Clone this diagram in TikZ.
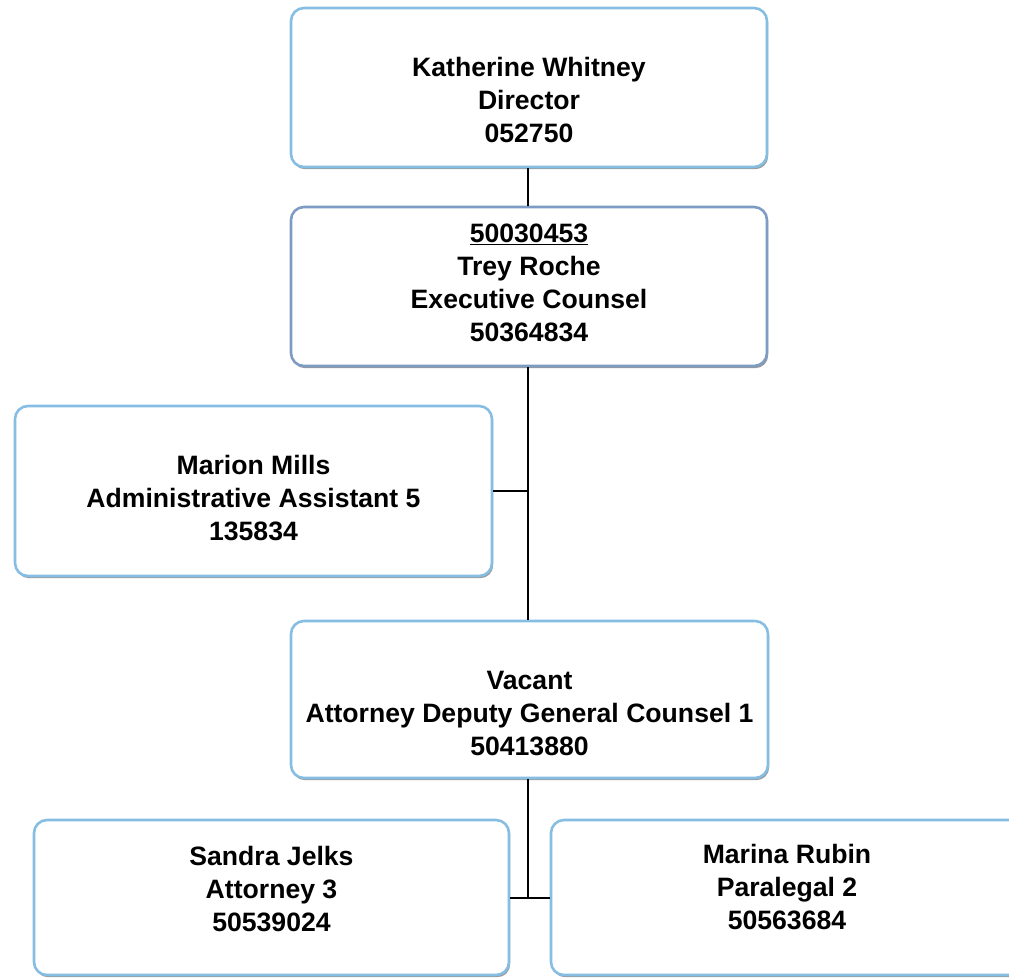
\documentclass[tikz,border=0pt]{standalone}
\usepackage{fontspec}
\setmainfont{Liberation Sans}
\usetikzlibrary{shadows}
\definecolor{boxblue}{HTML}{86BDE2}
\definecolor{boxsteel}{HTML}{7E9CC3}
\begin{document}
\begin{tikzpicture}[x=1pt,y=-1pt,
  orgbox/.style={draw=boxblue, line width=2.6pt, fill=white, rounded corners=13pt,
    inner sep=0pt, drop shadow={shadow xshift=1.2pt, shadow yshift=-2.2pt, fill=black!40, opacity=1}},
  orgtext/.style={align=center, font=\fontsize{26.6}{33}\selectfont\bfseries, inner sep=0pt},
  link/.style={draw=black, line width=1.3pt}]
\useasboundingbox (0,0) rectangle (1009,977);
% boxes
\node[orgbox, minimum width=476pt, minimum height=159pt] (b1) at (529,87.5) {};
\node[orgbox, draw=boxsteel, minimum width=476pt, minimum height=159pt] (b2) at (529,286.5) {};
\node[orgbox, minimum width=477pt, minimum height=170pt] (b3) at (253.5,491) {};
\node[orgbox, minimum width=477pt, minimum height=157pt] (b4) at (529.5,699.5) {};
\node[orgbox, minimum width=475pt, minimum height=155pt] (b5) at (271.5,897.5) {};
\node[orgbox, minimum width=472pt, minimum height=155pt] (b6) at (787,897.5) {};
% texts
\node[orgtext] (t1) at (529,99.5) {Katherine Whitney\\Director\\052750};
\node[orgtext] (t2) at (529,283) {\underline{50030453}\\Trey Roche\\Executive Counsel\\50364834};
\node[orgtext] (t3) at (253.5,498) {Marion Mills\\Administrative Assistant 5\\135834};
\node[orgtext] (t4) at (529.5,713) {Vacant\\Attorney Deputy General Counsel 1\\50413880};
\node[orgtext] (t5) at (271.5,889) {Sandra Jelks\\Attorney 3\\50539024};
\node[orgtext] (t6) at (787,887) {Marina Rubin\\Paralegal 2\\50563684};
% connectors
\coordinate (j1) at (528,491);
\coordinate (j2) at (528,898);
\draw[link] (b1.south -| 528,0) -- (b2.north -| 528,0);
\draw[link] (b2.south -| 528,0) -- (b4.north -| 528,0);
\draw[link] (b3.east) -- (j1);
\draw[link] (b4.south -| 528,0) -- (j2);
\draw[link] (b5.east |- j2) -- (b6.west |- j2);
\end{tikzpicture}
\end{document}
